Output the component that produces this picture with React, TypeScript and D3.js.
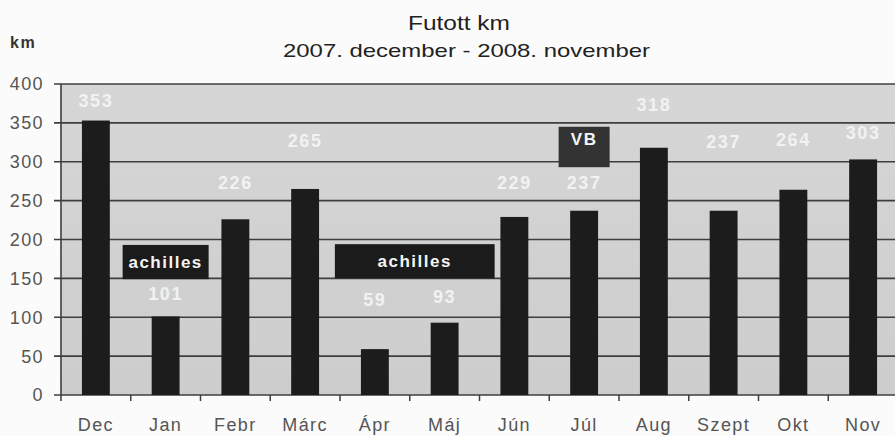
import * as d3 from "d3"

const months = ["Dec", "Jan", "Febr", "Márc", "Ápr", "Máj", "Jún", "Júl", "Aug", "Szept", "Okt", "Nov"]
const km = [353, 101, 226, 265, 59, 93, 229, 237, 318, 237, 264, 303]
// where the value labels sit, in km (placed by hand in the original)
const labelAt = [379, 130, 273, 327, 123, 127, 273, 273, 374, 326, 328, 337]
const yTicks = [0, 50, 100, 150, 200, 250, 300, 350, 400]
const notes = [
  { text: "achilles", from: "Jan", to: "Jan", top: 193, bottom: 149, fill: "#1b1b1b" },
  { text: "achilles", from: "Ápr", to: "Máj", top: 194, bottom: 150, fill: "#1b1b1b" },
  { text: "VB", from: "Júl", to: "Júl", top: 345, bottom: 293, fill: "#333333" },
]

const W = 895
const H = 436
const left = 61
const right = 898
const top = 84
const bottom = 395
const font = "'Liberation Sans', Arial, sans-serif"

export default function App() {
  const x = d3.scaleBand<string>().domain(months).range([left, right]).paddingInner(0.6).paddingOuter(0.3)
  const y = d3.scaleLinear().domain([0, 400]).range([bottom, top])
  const bounds = d3.range(months.length + 1).map((i) => left + i * (right - left) / months.length)
  const mid = (m: string) => (x(m) ?? 0) + x.bandwidth() / 2

  return (
    <svg width={W} height={H} style={{ position: "fixed", left: 0, top: 0 }} fontFamily={font}>
      <rect x={0} y={0} width={W} height={H} fill="#fbfbfb" />
      <text x={408} y={30} fontSize={20} fill="#222" textLength={102} lengthAdjust="spacingAndGlyphs">Futott km</text>
      <text x={283} y={57} fontSize={19} fill="#222" textLength={367} lengthAdjust="spacingAndGlyphs">2007. december - 2008. november</text>
      <text x={10} y={48} fontSize={16} fontWeight="bold" fill="#333" letterSpacing={1.5}>km</text>

      <defs>
        <linearGradient id="plotbg" x1="0" x2="0" y1="0" y2="1">
          <stop offset="0" stopColor="#d6d6d6" />
          <stop offset="1" stopColor="#cdcdcd" />
        </linearGradient>
      </defs>
      <rect x={left} y={top} width={right - left} height={bottom - top} fill="url(#plotbg)" />
      {yTicks.map((t) => (
        <g key={t}>
          <line x1={left - 7} x2={right} y1={y(t)} y2={y(t)} stroke="#3e3e3e" strokeWidth={1.6} />
          <text x={44} y={y(t)} dy="0.36em" textAnchor="end" fontSize={18} fill="#555" letterSpacing={1.4}>{t}</text>
        </g>
      ))}
      <line x1={left} x2={left} y1={top} y2={bottom} stroke="#3e3e3e" strokeWidth={1.6} />
      {bounds.map((b, i) => (
        <line key={i} x1={b} x2={b} y1={bottom} y2={bottom + 6} stroke="#3e3e3e" strokeWidth={1.5} />
      ))}

      {months.map((m, i) => (
        <g key={m}>
          <rect x={x(m)} y={y(km[i])} width={x.bandwidth()} height={bottom - y(km[i])} fill="#1c1c1c" />
          <text x={mid(m)} y={y(labelAt[i])} dy="0.36em" textAnchor="middle"
            fontSize={18} fontWeight="bold" fill="#f2f2f2" letterSpacing={1.6}>{km[i]}</text>
          <text x={mid(m)} y={431} textAnchor="middle" fontSize={18} fill="#555" letterSpacing={1.4}>{m}</text>
        </g>
      ))}

      {notes.map((n, i) => {
        const half = n.text === "VB" ? 25.5 : 43
        const x0 = n.from === n.to ? mid(n.from) - half : mid(n.from) - 40
        const x1 = n.from === n.to ? mid(n.to) + half : mid(n.to) + 50
        return (
          <g key={i}>
            <rect x={x0} y={y(n.top)} width={x1 - x0} height={y(n.bottom) - y(n.top)} fill={n.fill} />
            <text x={(x0 + x1) / 2} y={n.text === "VB" ? y(n.top) + 12 : (y(n.top) + y(n.bottom)) / 2} dy="0.36em"
              textAnchor="middle" fontSize={17} fontWeight="bold" fill="#f4f4f4" letterSpacing={1.5}>{n.text}</text>
          </g>
        )
      })}
    </svg>
  )
}
